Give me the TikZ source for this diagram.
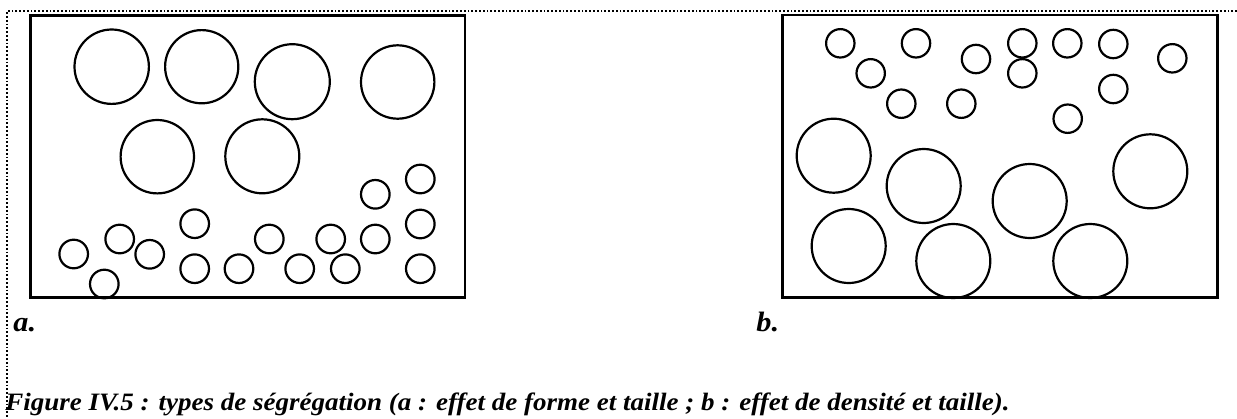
\documentclass[tikz,border=0pt]{standalone}
\usepackage{fontspec}
\setmainfont{Liberation Serif}
\newfontfamily\figfont{Liberation Serif}[FakeStretch=1.08]
\begin{document}
\begin{tikzpicture}[
    x=0.5pt, y=-0.5pt,
    frame/.style={line width=0.9pt, densely dotted},
    tank/.style={line width=1.4pt},
    grain/.style={line width=1.1pt},
    lab/.style={anchor=base west, inner sep=0pt, font=\figfont\fontsize{14}{16}\selectfont\bfseries\itshape},
    capt/.style={anchor=base west, inner sep=0pt, font=\figfont\fontsize{12.5}{14}\selectfont\bfseries\itshape}
]
\useasboundingbox (0,0) rectangle (1237,418);
% dotted frame (top and left only)
\draw[frame] (1237,11) -- (7,11) -- (7,418);

% a : shape and size
\draw[tank] (30.7,15.5) rectangle (465,297.7);
\foreach \x/\y/\r in {111.7/66.7/37.2, 201.7/66.7/36.6, 292.3/81.7/37.5, 397.7/82/36.7,
                      157.3/156.7/36.7, 262.3/156.3/37}
    \draw[grain] (\x,\y) circle (\r);
\foreach \x/\y in {420.3/179, 375.3/194.3, 420.3/224, 194.7/223.7, 119.7/239, 269.3/239,
                   330.7/239, 375.3/239, 73.7/254, 149.7/254.3, 194.7/268.7, 239/268.7,
                   299.7/268.7, 345.3/268.7, 420.3/268.7, 104.3/284}
    \draw[grain] (\x,\y) circle (14.3);

% b : density and size
\draw[tank] (782.3,15) rectangle (1217.7,297.7);
\foreach \x/\y in {840.3/43.3, 916/43.3, 1022.3/43.3, 1067.3/43.3, 1113.3/44, 870.7/73.3,
                   976/59, 1022.3/73.3, 1172.3/58.3, 1113.3/89, 901.3/103.7, 961.3/103.7,
                   1067.7/118.7}
    \draw[grain] (\x,\y) circle (14.2);
\foreach \x/\y in {833.7/155.7, 923.7/186, 1029.7/201, 1150.3/171.3, 848.7/246,
                   953.3/261, 1090.3/261}
    \draw[grain] (\x,\y) circle (37);

\node[lab] (la) at (13,331) {a.};
\node[lab] (lb) at (756,331) {b.};
\node[capt] (caption) at (5,410) {Figure IV.5 : types de ségrégation (a : effet de forme et taille ; b : effet de densité et taille).};
\end{tikzpicture}
\end{document}
